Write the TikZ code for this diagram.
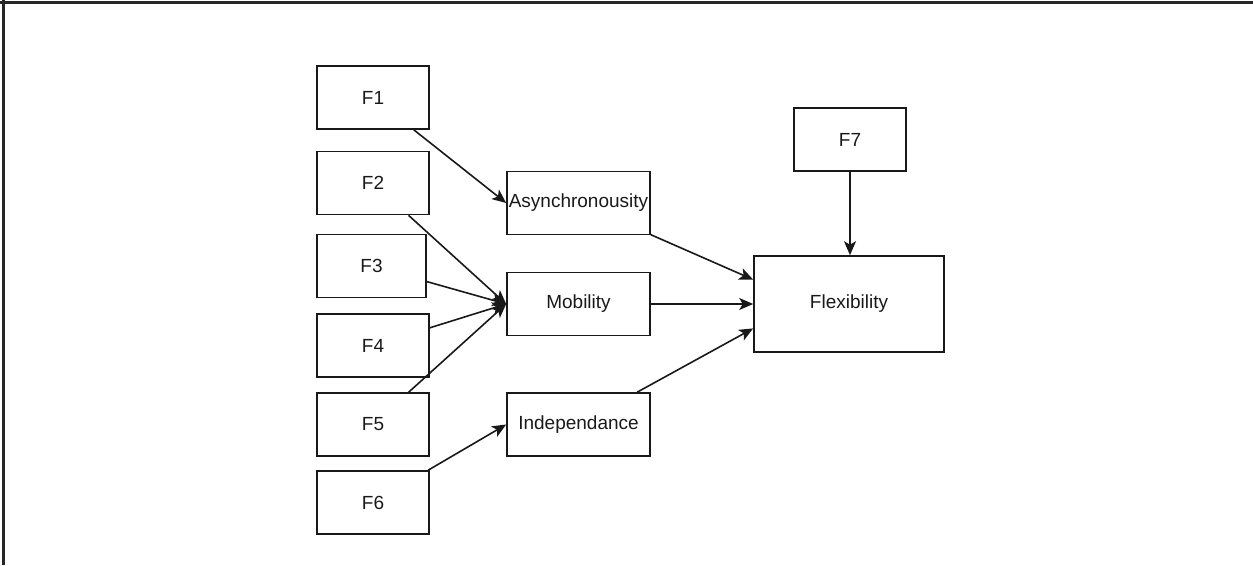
\documentclass[tikz,border=0pt]{standalone}
\usepackage{fontspec}
\setmainfont{Liberation Sans}
\usetikzlibrary{arrows.meta,calc}
\begin{document}
\begin{tikzpicture}[x=1pt,y=-1pt,
  box/.style={draw=black!90, line width=1.6pt, rectangle, inner sep=0pt,
    font=\fontsize{19}{23}\selectfont, text=black!90},
  fbox/.style={box, minimum width=112pt, minimum height=63pt},
  midbox/.style={box, minimum width=143pt, minimum height=63pt},
  arr/.style={draw=black!90, line width=1.6pt,
    -{Stealth[length=14pt,width=12pt,inset=3.5pt]}}
]
\useasboundingbox (0,0) rectangle (1253,565);
% frame edges along the top and left
\draw[line width=3pt, black!85] (0,2) -- (1253,2);
\draw[line width=3pt, black!85] (3.5,0) -- (3.5,565);

% factor boxes
\node[fbox] (f1) at (373,97.5) {F1};
\node[fbox] (f2) at (373,183) {F2};
\node[fbox, minimum width=109pt] (f3) at (371.5,266) {F3};
\node[fbox] (f4) at (373,345.5) {F4};
\node[fbox] (f5) at (373,424.5) {F5};
\node[fbox] (f6) at (373,502.5) {F6};
\node[fbox] (f7) at (850,139.5) {F7};

% intermediate constructs
\node[midbox] (async) at (578.5,203) {Asynchronousity};
\node[midbox] (mob) at (578.5,304) {Mobility};
\node[midbox] (indep) at (578.5,424.5) {Independance};

% outcome
\node[box, minimum width=190pt, minimum height=96pt] (flex) at (849,304) {Flexibility};

% connectors
\draw[arr] (f1) -- (async.west);
\draw[arr] (f2) -- (mob.west);
\draw[arr] (f3) -- (mob.west);
\draw[arr] (f4) -- (mob.west);
\draw[arr] (f5) -- (mob.west);
\draw[arr] (f6) -- (indep.west);
\draw[arr] (async) -- ($(flex.north west)!0.25!(flex.south west)$);
\draw[arr] (mob) -- (flex.west);
\draw[arr] (indep) -- ($(flex.north west)!0.75!(flex.south west)$);
\draw[arr] (f7) -- (f7 |- flex.north);
\end{tikzpicture}
\end{document}
